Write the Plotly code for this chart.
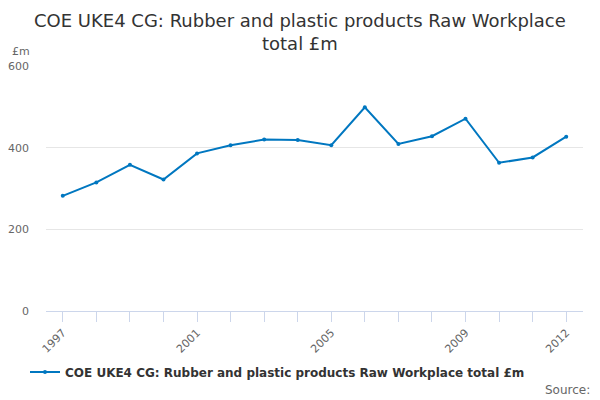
import plotly.graph_objects as go

years = list(range(1997, 2013))
values = [282, 315, 358, 322, 386, 406, 420, 419, 406, 499, 409, 428, 471, 363, 376, 427]
labelled_years = [1997, 2001, 2005, 2009, 2012]
y_ticks = [0, 200, 400, 600]

series_name = "COE UKE4 CG: Rubber and plastic products Raw Workplace total £m"
line_colour = "#0077c0"
font = "DejaVu Sans"

# the page puts the figure 8px in from the top-left corner
off = 8
W, H = 600 - off, 400 - off
left, right, top, bottom = 46 - off, 583 - off, 66 - off, 311 - off
pw, ph = right - left, bottom - top


def px_x(x):
    return (x - off - left) / pw


def px_y(y):
    return (bottom - (y - off)) / ph


fig = go.Figure()
fig.add_trace(go.Scatter(
    x=years,
    y=values,
    mode="lines+markers",
    name=series_name,
    line=dict(color=line_colour, width=2),
    marker=dict(size=4, color=line_colour),
))

fig.update_layout(
    width=W,
    height=H,
    paper_bgcolor="white",
    plot_bgcolor="white",
    font=dict(family=font, color="#666666", size=11),
    margin=dict(l=left, r=W - right, t=top, b=H - bottom, autoexpand=False),
    showlegend=True,
    legend=dict(
        orientation="h",
        xref="container", yref="container",
        x=(25 - off) / W, xanchor="left",
        y=1 - (372 - off) / H, yanchor="middle",
        font=dict(family=font, size=12, color="#333333", weight="bold"),
        itemwidth=30,
    ),
    xaxis=dict(
        range=[1996.5, 2012.5],
        tickvals=years,
        ticktext=[str(y) if y in labelled_years else "" for y in years],
        tickangle=-45,
        ticks="outside",
        ticklen=10,
        tickcolor="#ccd6eb",
        showline=True,
        linecolor="#ccd6eb",
        showgrid=False,
        zeroline=False,
        automargin=False,
        tickfont=dict(size=11, color="#666666"),
    ),
    yaxis=dict(
        range=[0, 600],
        tickvals=y_ticks,
        showgrid=True,
        gridcolor="#e6e6e6",
        zeroline=False,
        showline=False,
        ticks="",
        ticklabelstandoff=16,
        automargin=False,
        tickfont=dict(size=11, color="#666666"),
    ),
)

fig.add_annotation(
    text="COE UKE4 CG: Rubber and plastic products Raw Workplace<br>total £m",
    xref="paper", yref="paper", x=px_x(300), y=px_y(8),
    xanchor="center", yanchor="top", showarrow=False,
    font=dict(family=font, size=18, color="#333333"),
)
fig.add_annotation(
    text="£m", xref="paper", yref="paper", x=px_x(10), y=px_y(52),
    xanchor="left", yanchor="middle", showarrow=False,
    font=dict(family=font, size=11, color="#666666"),
)
fig.add_annotation(
    text="Source:", xref="paper", yref="paper", x=px_x(592), y=px_y(390),
    xanchor="right", yanchor="middle", showarrow=False,
    font=dict(family=font, size=12, color="#666666"),
)

fig.write_html("out.html")
